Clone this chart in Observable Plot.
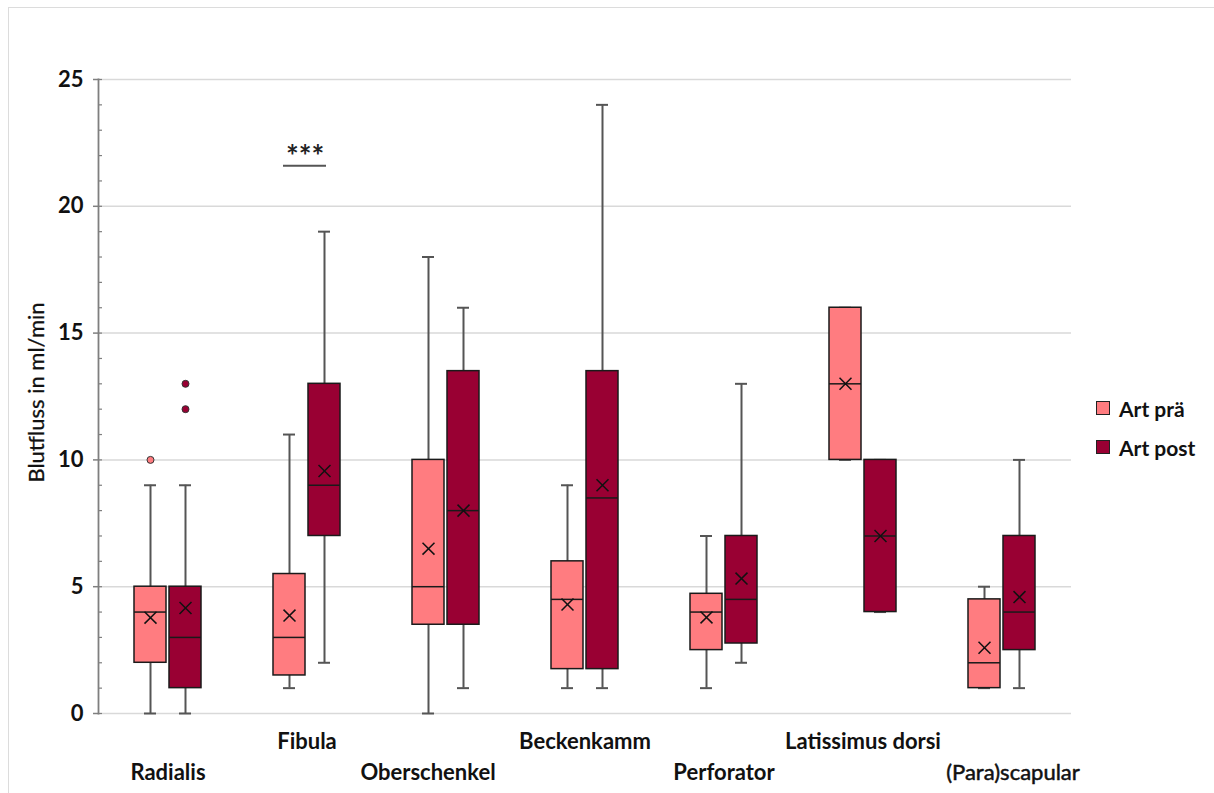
<!DOCTYPE html>
<html>
<head>
<meta charset="utf-8">
<script src="https://cdn.jsdelivr.net/npm/d3@7"></script>
<script src="https://cdn.jsdelivr.net/npm/@observablehq/plot@0.6"></script>
<style>
  html, body { margin: 0; padding: 0; background: #fff; }
  #wrap { position: relative; width: 1214px; height: 793px; overflow: hidden; font-family: Lato, sans-serif; }
  #border { position: absolute; left: 8px; top: 7px; right: -2px; bottom: -2px; border-left: 1.5px solid #dcdcdc; border-top: 1.5px solid #dcdcdc; }
  #chart { position: absolute; left: 0; top: 0; }
  #legend { position: absolute; left: 1096px; top: 396px; font-weight: bold; font-size: 21px; color: #111; }
  .item { display: flex; align-items: center; height: 24px; margin-bottom: 15px; }
  .sw { width: 12px; height: 12px; border: 1.5px solid #222; margin-right: 9px; }
</style>
</head>
<body>
<div id="wrap">
  <div id="border"></div>
  <div id="chart"></div>
  <div id="legend"></div>
</div>
<script>
// ---- data ----
const categories = ["Radialis", "Fibula", "Oberschenkel", "Beckenkamm", "Perforator", "Latissimus dorsi", "(Para)scapular"];
const seriesNames = ["Art prä", "Art post"];
const seriesColors = ["#FF7C80", "#990033"];

const preMin    = [0, 1, 0, 1, 1, 10, 1];
const preQ1     = [2, 1.5, 3.5, 1.75, 2.5, 10, 1];
const preMedian = [4, 3, 5, 4.5, 4, 13, 2];
const preQ3     = [5, 5.5, 10, 6, 4.72, 16, 4.5];
const preMax    = [9, 11, 18, 9, 7, 16, 5];
const preMean   = [3.78, 3.86, 6.5, 4.3, 3.79, 13, 2.59];

const postMin    = [0, 2, 1, 1, 2, 4, 1];
const postQ1     = [1, 7, 3.5, 1.75, 2.76, 4, 2.5];
const postMedian = [3, 9, 8, 8.5, 4.5, 7, 4];
const postQ3     = [5, 13, 13.5, 13.5, 7, 10, 7];
const postMax    = [9, 19, 16, 24, 13, 10, 10];
const postMean   = [4.16, 9.56, 8, 9, 5.32, 7, 4.59];

const outlierCat    = ["Radialis", "Radialis", "Radialis"];
const outlierSeries = ["Art prä", "Art post", "Art post"];
const outlierValue  = [10, 12, 13];

const yTicks = [0, 5, 10, 15, 20, 25];
const yMinorTicks = d3.range(0, 26, 1);
const yLabel = "Blutfluss in ml/min";
const sigCategory = "Fibula";
const sigLevel = 21.6;
const sigText = "***";

// category label rows (staggered)
const labelRow1 = ["Fibula", "Beckenkamm", "Latissimus dorsi"];
const labelRow2 = ["Radialis", "Oberschenkel", "Perforator", "(Para)scapular"];

// ---- build rows ----
const rows = categories.flatMap((c, i) => [
  {cat: c, series: seriesNames[0], min: preMin[i], q1: preQ1[i], median: preMedian[i], q3: preQ3[i], max: preMax[i], mean: preMean[i]},
  {cat: c, series: seriesNames[1], min: postMin[i], q1: postQ1[i], median: postMedian[i], q3: postQ3[i], max: postMax[i], mean: postMean[i]}
]);
const outliers = outlierCat.map((c, i) => ({cat: c, series: outlierSeries[i], value: outlierValue[i]}));

const labelShift = {"Oberschenkel": -18, "(Para)scapular": 11};
const labelFont = {fontSize: 22, fontWeight: "bold", fill: "#111"};

const labelMarks = [
  ...labelRow1.map(c => Plot.text([c], {fx: d => d, text: d => d, frameAnchor: "bottom", dy: 35, dx: labelShift[c] || 0, ...labelFont})),
  ...labelRow2.map(c => Plot.text([c], {fx: d => d, text: d => d, frameAnchor: "bottom", dy: 66, dx: labelShift[c] || 0, ...labelFont,
      ...(c === "(Para)scapular" ? {fontWeight: "normal", stroke: "#111", strokeWidth: 0.5} : {})}))
];

const whisker = "#555555";
const edge = "#1a1a1a";

const chart = Plot.plot({
  width: 1214,
  height: 793,
  marginLeft: 97,
  marginRight: 142,
  marginTop: 79,
  marginBottom: 80,
  style: {fontFamily: "Lato, sans-serif", background: "transparent"},
  fx: {domain: categories, padding: 0, axis: null, label: null},
  x: {domain: seriesNames, paddingInner: 0.1, paddingOuter: 1.0, axis: null, label: null},
  y: {domain: [0, 25], axis: null, label: null},
  color: {domain: seriesNames, range: seriesColors},
  marks: [
    Plot.gridY({ticks: yTicks, stroke: "#d9d9d9", strokeOpacity: 1, strokeWidth: 1.5}),
    Plot.axisY({ticks: yMinorTicks, tickSize: -4, tickFormat: () => "", stroke: "#7f7f7f", strokeWidth: 1.2}),
    Plot.axisY({ticks: yTicks, tickSize: 5, tickPadding: 10, tickFormat: d => String(d), fontSize: 22, fontWeight: "bold",
      stroke: "#7f7f7f", strokeWidth: 1.5, fill: "#111", label: null}),
    Plot.frame({anchor: "left", facetAnchor: "left", stroke: "#7f7f7f", strokeWidth: 1.8}),
    Plot.text([yLabel], {fx: () => categories[0], text: d => d, frameAnchor: "left", textAnchor: "middle", dx: -62, dy: -4, rotate: -90,
      fontSize: 22, fill: "#111", stroke: "#111", strokeWidth: 0.3}),
    // whiskers
    Plot.ruleX(rows, {fx: "cat", x: "series", y1: "min", y2: "max", stroke: whisker, strokeWidth: 2}),
    Plot.tickY(rows, {fx: "cat", x: "series", y: "min", stroke: whisker, strokeWidth: 2, insetLeft: 10, insetRight: 10}),
    Plot.tickY(rows, {fx: "cat", x: "series", y: "max", stroke: whisker, strokeWidth: 2, insetLeft: 10, insetRight: 10}),
    // boxes
    Plot.barY(rows, {fx: "cat", x: "series", y1: "q1", y2: "q3", fill: "series", stroke: edge, strokeWidth: 1.5}),
    Plot.tickY(rows, {fx: "cat", x: "series", y: "median", stroke: edge, strokeWidth: 1.5}),
    Plot.dot(rows, {fx: "cat", x: "series", y: "mean", symbol: "times", r: 5.5, stroke: "#111", strokeWidth: 1.5}),
    // outliers
    Plot.dot(outliers, {fx: "cat", x: "series", y: "value", r: 3.5, fill: "series", stroke: "#333", strokeWidth: 1}),
    // significance
    Plot.ruleY([sigLevel], {fx: () => sigCategory, y: d => d, stroke: whisker, strokeWidth: 2, insetLeft: 46, insetRight: 50}),
    Plot.text([sigText], {fx: () => sigCategory, y: () => sigLevel, text: d => d, dy: -8, dx: -2, fontSize: 30, fontWeight: "bold", fill: "#222"}),
    ...labelMarks
  ]
});
document.getElementById("chart").appendChild(chart);

// legend
const legend = document.getElementById("legend");
seriesNames.forEach((s, i) => {
  const item = document.createElement("div");
  item.className = "item";
  const sw = document.createElement("div");
  sw.className = "sw";
  sw.style.background = seriesColors[i];
  const t = document.createElement("span");
  t.textContent = s;
  item.appendChild(sw);
  item.appendChild(t);
  legend.appendChild(item);
});
</script>
</body>
</html>
